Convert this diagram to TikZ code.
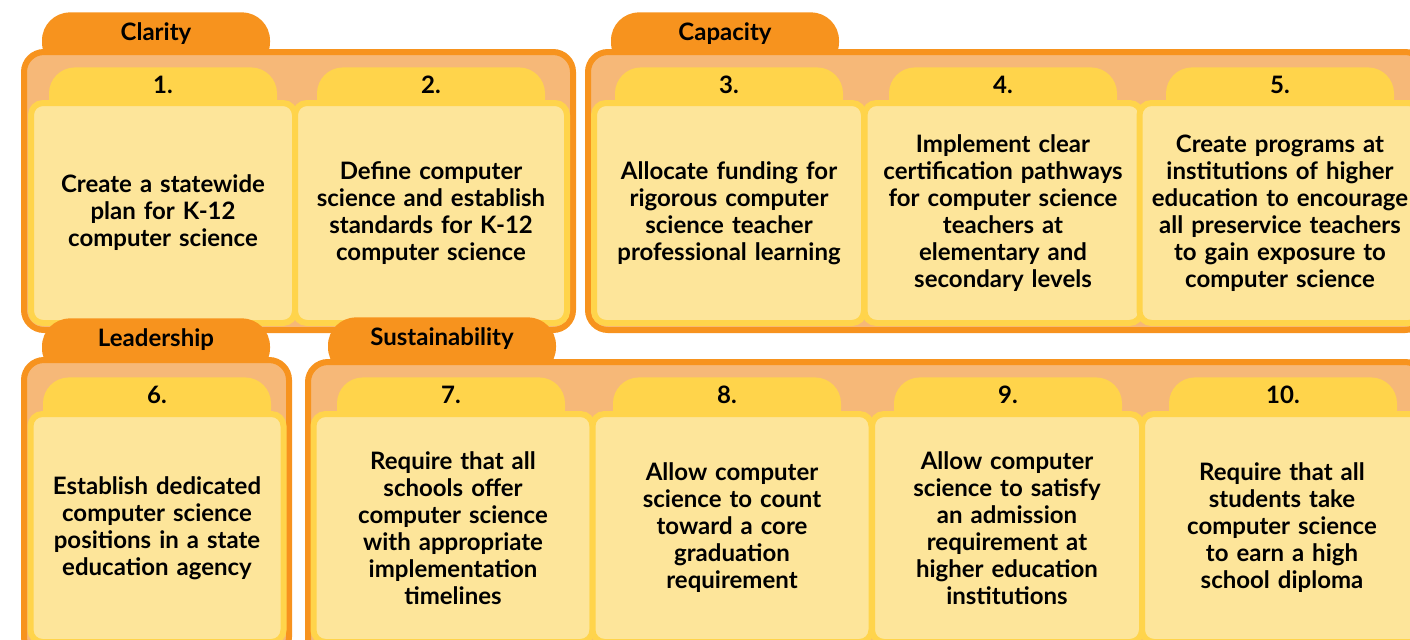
\documentclass[tikz,border=0pt]{standalone}
\usepackage{fontspec}
\setmainfont{Lato}
\definecolor{tabOrange}{RGB}{247, 147, 30}
\definecolor{boxOrange}{RGB}{246, 184, 120}
\definecolor{tabYellow}{RGB}{255, 212, 75}
\definecolor{cardYellow}{RGB}{253, 229, 154}
\usetikzlibrary{positioning}

\begin{document}
\begin{tikzpicture}[x=0.5pt, y=-0.5pt,
    grptab/.style={fill=tabOrange, rounded corners=14pt, anchor=north, inner ysep=0pt,
      minimum width=114pt, text height=14pt, text depth=15pt, font=\bfseries\fontsize{12}{13}\selectfont},
    grpbox/.style={draw=tabOrange, fill=boxOrange, line width=3pt, rounded corners=10pt, anchor=north west},
    cardtab/.style={fill=tabYellow, rounded corners=13pt, anchor=north, inner ysep=0pt,
      minimum width=114pt, text height=13pt, text depth=16pt, font=\bfseries\fontsize{12}{13}\selectfont},
    cardbody/.style={draw=tabYellow, fill=cardYellow, line width=3pt, rounded corners=6pt, anchor=north,
      align=center, font=\bfseries\fontsize{12}{13.5}\selectfont},
    toprow/.style={cardbody, minimum height=110pt},
    botrow/.style={cardbody, minimum height=114pt}]
  \useasboundingbox (0,0) rectangle (1410,639);
  \clip (0,0) rectangle (1410,639);

  % Clarity
  \node[grptab] (clarityTab) at (156,12) {Clarity};
  \node[grpbox, minimum width=274.5pt, minimum height=139pt] (clarity) at (21,49) {};
  \node[cardtab] (tab1) at (163,67) {1.};
  \node[toprow, minimum width=132pt, text width=120pt] (card1) at (163,100)
    {Create a statewide\\plan for K-12\\computer science};
  \node[cardtab] (tab2) at (431,67) {2.};
  \node[toprow, minimum width=136pt, text width=124pt] (card2) at (431,100)
    {Define computer\\science and establish\\standards for K-12\\computer science};

  % Capacity
  \node[grptab] (capacityTab) at (725,12) {Capacity};
  \node[grpbox, minimum width=418.5pt, minimum height=139pt] (capacity) at (585,49) {};
  \node[cardtab] (tab3) at (729,67) {3.};
  \node[toprow, minimum width=135pt, text width=123pt] (card3) at (729,100)
    {Allocate funding for\\rigorous computer\\science teacher\\professional learning};
  \node[cardtab] (tab4) at (1003,67) {4.};
  \node[toprow, minimum width=138.5pt, text width=126.5pt] (card4) at (1003,100)
    {Implement clear\\certification pathways\\for computer science\\teachers at\\elementary and\\secondary levels};
  \node[cardtab] (tab5) at (1280,67) {5.};
  \node[toprow, minimum width=140.5pt, text width=128.5pt] (card5) at (1280,100)
    {Create programs at\\institutions of higher\\education to encourage\\all preservice teachers\\to gain exposure to\\computer science};

  % Leadership
  \node[grptab] (leadershipTab) at (156,318) {Leadership};
  \node[grpbox, minimum width=132.5pt, minimum height=148.5pt] (leadership) at (21,357) {};
  \node[cardtab] (tab6) at (157,377) {6.};
  \node[botrow, minimum width=126.5pt, text width=114.5pt] (card6) at (157,411)
    {Establish dedicated\\computer science\\positions in a state\\education agency};

  % Sustainability
  \node[grptab] (sustainTab) at (442,317) {Sustainability};
  \node[grpbox, minimum width=558.5pt, minimum height=148.5pt] (sustain) at (305,359) {};
  \node[cardtab] (tab7) at (451,377) {7.};
  \node[botrow, minimum width=139.5pt, text width=127.5pt] (card7) at (453,411)
    {Require that all\\schools offer\\computer science\\with appropriate\\implementation\\timelines};
  \node[cardtab] (tab8) at (727,377) {8.};
  \node[botrow, minimum width=139.5pt, text width=127.5pt] (card8) at (732,411)
    {Allow computer\\science to count\\toward a core\\graduation\\requirement};
  \node[cardtab] (tab9) at (1008,377) {9.};
  \node[botrow, minimum width=135pt, text width=123pt] (card9) at (1007,411)
    {Allow computer\\science to satisfy\\an admission\\requirement at\\higher education\\institutions};
  \node[cardtab] (tab10) at (1283,377) {10.};
  \node[botrow, minimum width=140pt, text width=128pt] (card10) at (1282,411)
    {Require that all\\students take\\computer science\\to earn a high\\school diploma};
\end{tikzpicture}
\end{document}
